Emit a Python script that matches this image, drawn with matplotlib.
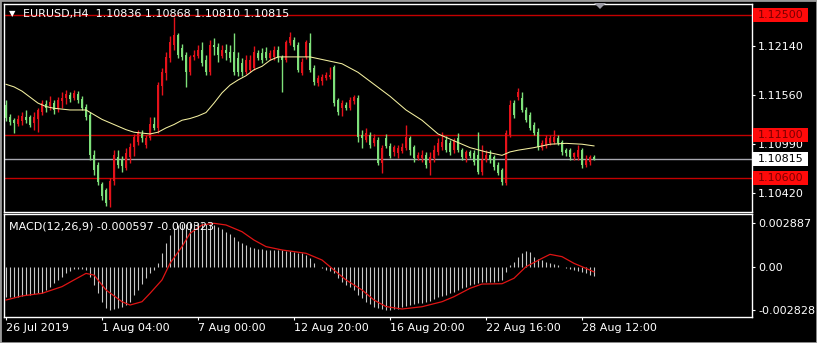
import matplotlib
matplotlib.use("Agg")
import matplotlib.pyplot as plt
import matplotlib.transforms as mtransforms
from matplotlib.patches import Rectangle, Polygon
import numpy as np

# EURUSD H4 candles
opens = [1.1145, 1.1131, 1.1127, 1.1123, 1.1126, 1.1131, 1.1131, 1.1124, 1.1129, 1.1137,
         1.1146, 1.1144, 1.1147, 1.1140, 1.1150, 1.1153, 1.1157, 1.1153, 1.1158, 1.1152,
         1.1142, 1.1133, 1.1086, 1.1075, 1.1053, 1.1046, 1.1034, 1.1056, 1.1084, 1.1081,
         1.1071, 1.1084, 1.1096, 1.1102, 1.1111, 1.1098, 1.1106, 1.1123, 1.1118, 1.1167,
         1.1182, 1.1200, 1.1215, 1.1227, 1.1211, 1.1203, 1.1183, 1.1201, 1.1202, 1.1209,
         1.1197, 1.1183, 1.1215, 1.1213, 1.1202, 1.1209, 1.1207, 1.1207, 1.1200, 1.1194,
         1.1183, 1.1186, 1.1188, 1.1206, 1.1206, 1.1207, 1.1200, 1.1201, 1.1209, 1.1201,
         1.1197, 1.1217, 1.1221, 1.1215, 1.1182, 1.1201, 1.1217, 1.1188, 1.1170, 1.1173,
         1.1176, 1.1178, 1.1189, 1.1151, 1.1141, 1.1145, 1.1141, 1.1150, 1.1153, 1.1110,
         1.1104, 1.1110, 1.1100, 1.1104, 1.1077, 1.1106, 1.1097, 1.1090, 1.1089, 1.1091,
         1.1095, 1.1106, 1.1096, 1.1083, 1.1083, 1.1086, 1.1077, 1.1083, 1.1090, 1.1096,
         1.1104, 1.1100, 1.1092, 1.1106, 1.1092, 1.1083, 1.1090, 1.1089, 1.1086, 1.1067,
         1.1081, 1.1086, 1.1084, 1.1075, 1.1069, 1.1054, 1.1110, 1.1147, 1.1154, 1.1153,
         1.1139, 1.1133, 1.1121, 1.1113, 1.1095, 1.1098, 1.1100, 1.1102, 1.1106, 1.1102,
         1.1092, 1.1092, 1.1084, 1.1084, 1.1092, 1.1075, 1.1078, 1.10836]
highs = [1.1151, 1.1134, 1.1130, 1.1133, 1.1137, 1.1139, 1.1133, 1.1137, 1.1141, 1.1151,
         1.1151, 1.1155, 1.1151, 1.1154, 1.1160, 1.1162, 1.1160, 1.1162, 1.1161, 1.1155,
         1.1146, 1.1137, 1.1092, 1.1078, 1.1055, 1.1048, 1.1060, 1.1092, 1.1092, 1.1085,
         1.1095, 1.1100, 1.1111, 1.1116, 1.1116, 1.1110, 1.1131, 1.1131, 1.1172, 1.1188,
         1.1207, 1.1225, 1.1248, 1.1229, 1.1216, 1.1207, 1.1203, 1.1209, 1.1215, 1.1218,
         1.1203, 1.1221, 1.1223, 1.1217, 1.1215, 1.1216, 1.1215, 1.1229, 1.1207, 1.1200,
         1.1203, 1.1203, 1.1214, 1.1209, 1.1211, 1.1213, 1.1209, 1.1214, 1.1214, 1.1203,
         1.1221, 1.1230, 1.1224, 1.1218, 1.1200, 1.1221, 1.1229, 1.1192, 1.1180, 1.1181,
         1.1183, 1.1189, 1.1192, 1.1153, 1.1151, 1.1148, 1.1154, 1.1156, 1.1156, 1.1116,
         1.1118, 1.1113, 1.1111, 1.1107, 1.1098, 1.1111, 1.1100, 1.1098, 1.1098, 1.1100,
         1.1121, 1.1109, 1.1098, 1.1090, 1.1092, 1.1090, 1.1090, 1.1098, 1.1106, 1.1113,
         1.1109, 1.1104, 1.1106, 1.1112, 1.1095, 1.1092, 1.1092, 1.1092, 1.1113, 1.1098,
         1.1092, 1.1092, 1.1086, 1.1078, 1.1071, 1.1116, 1.1151, 1.1151, 1.1165, 1.1160,
         1.1143, 1.1137, 1.1125, 1.1118, 1.1104, 1.1110, 1.1110, 1.1116, 1.1110, 1.1104,
         1.1095, 1.1095, 1.1090, 1.1098, 1.1095, 1.1086, 1.1086, 1.10868]
lows = [1.1126, 1.1121, 1.1112, 1.1120, 1.1121, 1.1124, 1.1119, 1.1116, 1.1113, 1.1133,
        1.1137, 1.1139, 1.1134, 1.1137, 1.1141, 1.1146, 1.1148, 1.1151, 1.1147, 1.1139,
        1.1127, 1.1081, 1.1063, 1.1051, 1.1034, 1.1027, 1.1026, 1.1051, 1.1071, 1.1067,
        1.1069, 1.1077, 1.1085, 1.1098, 1.1102, 1.1095, 1.1104, 1.1116, 1.1112, 1.1157,
        1.1174, 1.1195, 1.1209, 1.1200, 1.1197, 1.1166, 1.1180, 1.1197, 1.1200, 1.1190,
        1.1180, 1.1180, 1.1203, 1.1195, 1.1200, 1.1197, 1.1195, 1.1180, 1.1179, 1.1179,
        1.1181, 1.1183, 1.1186, 1.1197, 1.1194, 1.1197, 1.1197, 1.1197, 1.1195, 1.1160,
        1.1195, 1.1215, 1.1209, 1.1183, 1.1180, 1.1199, 1.1183, 1.1168, 1.1167, 1.1168,
        1.1174, 1.1175, 1.1144, 1.1133, 1.1132, 1.1139, 1.1139, 1.1146, 1.1102, 1.1095,
        1.1102, 1.1095, 1.1097, 1.1075, 1.1065, 1.1095, 1.1083, 1.1085, 1.1083, 1.1089,
        1.1092, 1.1086, 1.1078, 1.1081, 1.1078, 1.1071, 1.1063, 1.1078, 1.1086, 1.1092,
        1.1090, 1.1086, 1.1089, 1.1090, 1.1081, 1.1078, 1.1083, 1.1075, 1.1064, 1.1063,
        1.1078, 1.1077, 1.1069, 1.1063, 1.1051, 1.1051, 1.1107, 1.1130, 1.1151, 1.1137,
        1.1125, 1.1116, 1.1110, 1.1092, 1.1092, 1.1095, 1.1098, 1.1099, 1.1098, 1.1086,
        1.1085, 1.1081, 1.1081, 1.1081, 1.1071, 1.1072, 1.1075, 1.10810]
closes = [1.1130, 1.1125, 1.1124, 1.1129, 1.1132, 1.1127, 1.1121, 1.1131, 1.1139, 1.1147,
          1.1141, 1.1148, 1.1139, 1.1151, 1.1153, 1.1158, 1.1152, 1.1159, 1.1151, 1.1141,
          1.1131, 1.1086, 1.1069, 1.1055, 1.1039, 1.1030, 1.1056, 1.1086, 1.1075, 1.1074,
          1.1089, 1.1096, 1.1107, 1.1112, 1.1106, 1.1106, 1.1123, 1.1118, 1.1168, 1.1183,
          1.1201, 1.1218, 1.1227, 1.1203, 1.1201, 1.1183, 1.1201, 1.1203, 1.1209, 1.1194,
          1.1183, 1.1215, 1.1213, 1.1203, 1.1209, 1.1206, 1.1200, 1.1183, 1.1183, 1.1183,
          1.1197, 1.1197, 1.1207, 1.1200, 1.1197, 1.1200, 1.1206, 1.1209, 1.1200, 1.1197,
          1.1218, 1.1224, 1.1213, 1.1186, 1.1195, 1.1218, 1.1186, 1.1172, 1.1176, 1.1178,
          1.1180, 1.1180, 1.1147, 1.1137, 1.1147, 1.1141, 1.1151, 1.1154, 1.1107, 1.1106,
          1.1112, 1.1098, 1.1106, 1.1077, 1.1095, 1.1097, 1.1085, 1.1096, 1.1095, 1.1096,
          1.1107, 1.1092, 1.1083, 1.1086, 1.1086, 1.1075, 1.1084, 1.1092, 1.1100, 1.1102,
          1.1092, 1.1090, 1.1103, 1.1092, 1.1084, 1.1090, 1.1085, 1.1078, 1.1067, 1.1081,
          1.1086, 1.1081, 1.1072, 1.1065, 1.1055, 1.1112, 1.1145, 1.1133, 1.1160, 1.1139,
          1.1127, 1.1118, 1.1112, 1.1096, 1.1100, 1.1106, 1.1106, 1.1107, 1.1100, 1.1090,
          1.1089, 1.1084, 1.1089, 1.1092, 1.1075, 1.1081, 1.1084, 1.10815]

# moving average read at some bars
ma_idx = [0, 2, 4, 8, 10, 12, 16, 20, 24, 26, 28, 30, 32, 34, 36, 38, 40, 42, 44, 46,
          48, 50, 52, 54, 56, 58, 60, 62, 64, 66, 68, 72, 76, 80, 84, 88, 92, 96, 100,
          104, 108, 112, 116, 120, 124, 126, 128, 132, 136, 140, 144, 147]
ma_vals = [1.1169, 1.1166, 1.1161, 1.1147, 1.1143, 1.1141, 1.1139, 1.1139, 1.1128, 1.1124,
           1.1120, 1.1116, 1.1113, 1.1112, 1.1111, 1.1113, 1.1118, 1.1122, 1.1127, 1.1129,
           1.1132, 1.1136, 1.1147, 1.1159, 1.1168, 1.1174, 1.1179, 1.1186, 1.1190, 1.1197,
           1.1201, 1.1201, 1.1201, 1.1197, 1.1193, 1.1183, 1.1169, 1.1155, 1.1139,
           1.1127, 1.1111, 1.1103, 1.1095, 1.1090, 1.1086, 1.1090, 1.1092, 1.1095, 1.1099,
           1.1100, 1.1099, 1.1097]

# MACD(12,26,9) main (histogram), one per bar
macd_main = [-0.00199, -0.00199, -0.00195, -0.00195, -0.00191, -0.00186, -0.00184, -0.00180, -0.00173, -0.00169,
             -0.00151, -0.00129, -0.00107, -0.00085, -0.00064, -0.00042, -0.00026, -0.00015, -0.00011, -0.00011,
             -0.00020, -0.00064, -0.00118, -0.00173, -0.00228, -0.00272, -0.00283, -0.00278, -0.00272, -0.00265,
             -0.00250, -0.00228, -0.00184, -0.00151, -0.00112, -0.00074, -0.00042, -0.00020, 0.00024, 0.00090,
             0.00155, 0.00210, 0.00254, 0.00276, 0.00283, 0.00283, 0.00287, 0.00287, 0.002887, 0.00287,
             0.00283, 0.00283, 0.00276, 0.00265, 0.00247, 0.00232, 0.00217, 0.00195, 0.00173, 0.00155,
             0.00142, 0.00129, 0.00123, 0.00116, 0.00116, 0.00114, 0.00112, 0.00112, 0.00110, 0.00110,
             0.00107, 0.00107, 0.00101, 0.00094, 0.00090, 0.00079, 0.00057, 0.00028, 0.00002, -0.00009,
             -0.00020, -0.00026, -0.00042, -0.00074, -0.00096, -0.00118, -0.00134, -0.00151, -0.00184, -0.00206,
             -0.00228, -0.00243, -0.00261, -0.00272, -0.00278, -0.002828, -0.00282, -0.00278, -0.00274, -0.00261,
             -0.00256, -0.00250, -0.00245, -0.00239, -0.00234, -0.00228, -0.00221, -0.00212, -0.00199, -0.00191,
             -0.00182, -0.00173, -0.00162, -0.00151, -0.00140, -0.00129, -0.00118, -0.00112, -0.00103, -0.00099,
             -0.00096, -0.00096, -0.00096, -0.00092, -0.00085, -0.00031, 0.00013, 0.00035, 0.00068, 0.00094,
             0.00107, 0.00101, 0.00068, 0.00050, 0.00046, 0.00035, 0.00028, 0.00020, 0.00011, -0.00002,
             -0.00009, -0.00013, -0.00020, -0.00026, -0.00033, -0.00042, -0.00050, -0.000597]
# signal line read at some bars
sig_idx = [0, 4, 9, 14, 17, 20, 22, 25, 29, 31, 34, 36, 39, 41, 44, 46, 49, 52, 55,
           59, 62, 65, 69, 72, 75, 79, 82, 85, 89, 92, 95, 99, 104, 109, 112, 116, 119,
           124, 127, 130, 134, 136, 139, 142, 145, 147]
sig_vals = [-0.00217, -0.00190, -0.00173, -0.00129, -0.00085, -0.00042, -0.00053, -0.00151,
            -0.00228, -0.00250, -0.00228, -0.00173, -0.00085, 0.00024, 0.00134, 0.00221,
            0.00276, 0.00287, 0.00276, 0.00232, 0.00177, 0.00134, 0.00112, 0.00101, 0.00090,
            0.00046, -0.00020, -0.00085, -0.00151, -0.00217, -0.00260, -0.00276, -0.00261,
            -0.00228, -0.00195, -0.00140, -0.00112, -0.00110, -0.00074, 0.00002, 0.00057,
            0.00083, 0.00068, 0.00024, -0.00009, -0.000323]

tick_idx = [0, 24, 48, 72, 96, 120, 144]
tick_labels = ["26 Jul 2019", "1 Aug 04:00", "7 Aug 00:00", "12 Aug 20:00",
               "16 Aug 20:00", "22 Aug 16:00", "28 Aug 12:00"]
price_ticks = [1.12140, 1.11560, 1.10990, 1.10420]
levels = [1.12500, 1.11100, 1.10600]
bid = 1.10815

W, H = 817, 343
fig = plt.figure(figsize=(W / 100, H / 100), dpi=100, facecolor="black")
ax = fig.add_axes([4 / W, 1 - 212 / H, 748 / W, 208 / H])
ax2 = fig.add_axes([4 / W, 1 - 317 / H, 748 / W, 103 / H])

bull = "#e5121a"
bear = "#7ee07a"
idx = np.arange(len(closes))
o = np.array(opens); c = np.array(closes)
cols = [bull if cc >= oo else bear for oo, cc in zip(o, c)]

for a in (ax, ax2):
    a.set_facecolor("black")
    for s in a.spines.values():
        s.set_color("white")
        s.set_linewidth(1)
    a.set_xlim(-0.5, 186.5)

# levels and bid line
for lv in levels:
    ax.axhline(lv, color="#c40000", lw=1, zorder=1)
ax.axhline(bid, color="#a8a8b0", lw=1, zorder=1)

# candles
ax.vlines(idx, lows, highs, colors=cols, lw=1, zorder=2)
body = np.maximum(np.abs(c - o), 0.00003)
ax.bar(idx, body, bottom=np.minimum(o, c), width=0.72, color=cols, zorder=3, linewidth=0)

# moving average
ax.plot(ma_idx, ma_vals, color="#f4f0a0", lw=0.75, zorder=4)

ax.set_ylim(1.10198, 1.12628)
ax.set_xticks([])
ax.yaxis.tick_right()
ax.set_yticks(price_ticks)
ax.set_yticklabels(["%.5f" % p for p in price_ticks])
ax.tick_params(axis="y", colors="white", labelcolor="white", labelsize=8, length=2.5, pad=2)

# price boxes on the right
tr = mtransforms.blended_transform_factory(fig.transFigure, ax.transData)
boxh = 14 * 0.00011685
for lv in levels:
    ax.add_patch(Rectangle((753 / W, lv - boxh / 2), 55 / W, boxh, transform=tr,
                           facecolor="#ff0a0a", edgecolor="none", clip_on=False, zorder=10))
    ax.text(757.5 / W, lv, "%.5f" % lv, transform=tr, color="#7a0000", fontsize=8,
            va="center", ha="left", zorder=11, clip_on=False)
ax.add_patch(Rectangle((753 / W, bid - boxh / 2), 55 / W, boxh, transform=tr,
                       facecolor="white", edgecolor="none", clip_on=False, zorder=10))
ax.text(757.5 / W, bid, "%.5f" % bid, transform=tr, color="black", fontsize=8,
        va="center", ha="left", zorder=11, clip_on=False)

# MACD panel
ax2.vlines(idx, 0, macd_main, colors="#c8c8c8", lw=0.8, zorder=2)
ax2.plot(sig_idx, sig_vals, color="#e01414", lw=0.9, zorder=3)
ax2.set_ylim(-0.003285, 0.003482)
ax2.yaxis.tick_right()
ax2.set_yticks([0.002887, 0.0, -0.002828])
ax2.set_yticklabels(["0.002887", "0.00", "-0.002828"])
ax2.tick_params(axis="y", colors="white", labelcolor="white", labelsize=8, length=2.5, pad=2)
ax2.set_xticks(tick_idx)
ax2.set_xticklabels(tick_labels, ha="left")
ax2.tick_params(axis="x", colors="white", labelcolor="white", labelsize=8, length=2.5, pad=2)
ax2.text(0.007, 0.88, "MACD(12,26,9) -0.000597 -0.000323", transform=ax2.transAxes,
         color="white", fontsize=8, va="center", ha="left")

# header
fig.text(9 / W, 1 - 14 / H, "\u25bc", color="white", fontsize=6, va="center", ha="left")
fig.text(23 / W, 1 - 14 / H, "EURUSD,H4  1.10836 1.10868 1.10810 1.10815",
         color="white", fontsize=8, va="center", ha="left")

# chart shift marker and frame
fig.patches.append(Polygon([[594 / W, 1 - 3 / H], [606 / W, 1 - 3 / H], [600 / W, 1 - 9 / H]],
                           closed=True, transform=fig.transFigure, facecolor="#9a9aa4",
                           edgecolor="none"))
fig.patches.append(Rectangle((0, 0), 1, 1, transform=fig.transFigure, fill=False,
                             edgecolor="#9a9a9a", lw=2))

fig.savefig("out.png", dpi=100, facecolor="black")
